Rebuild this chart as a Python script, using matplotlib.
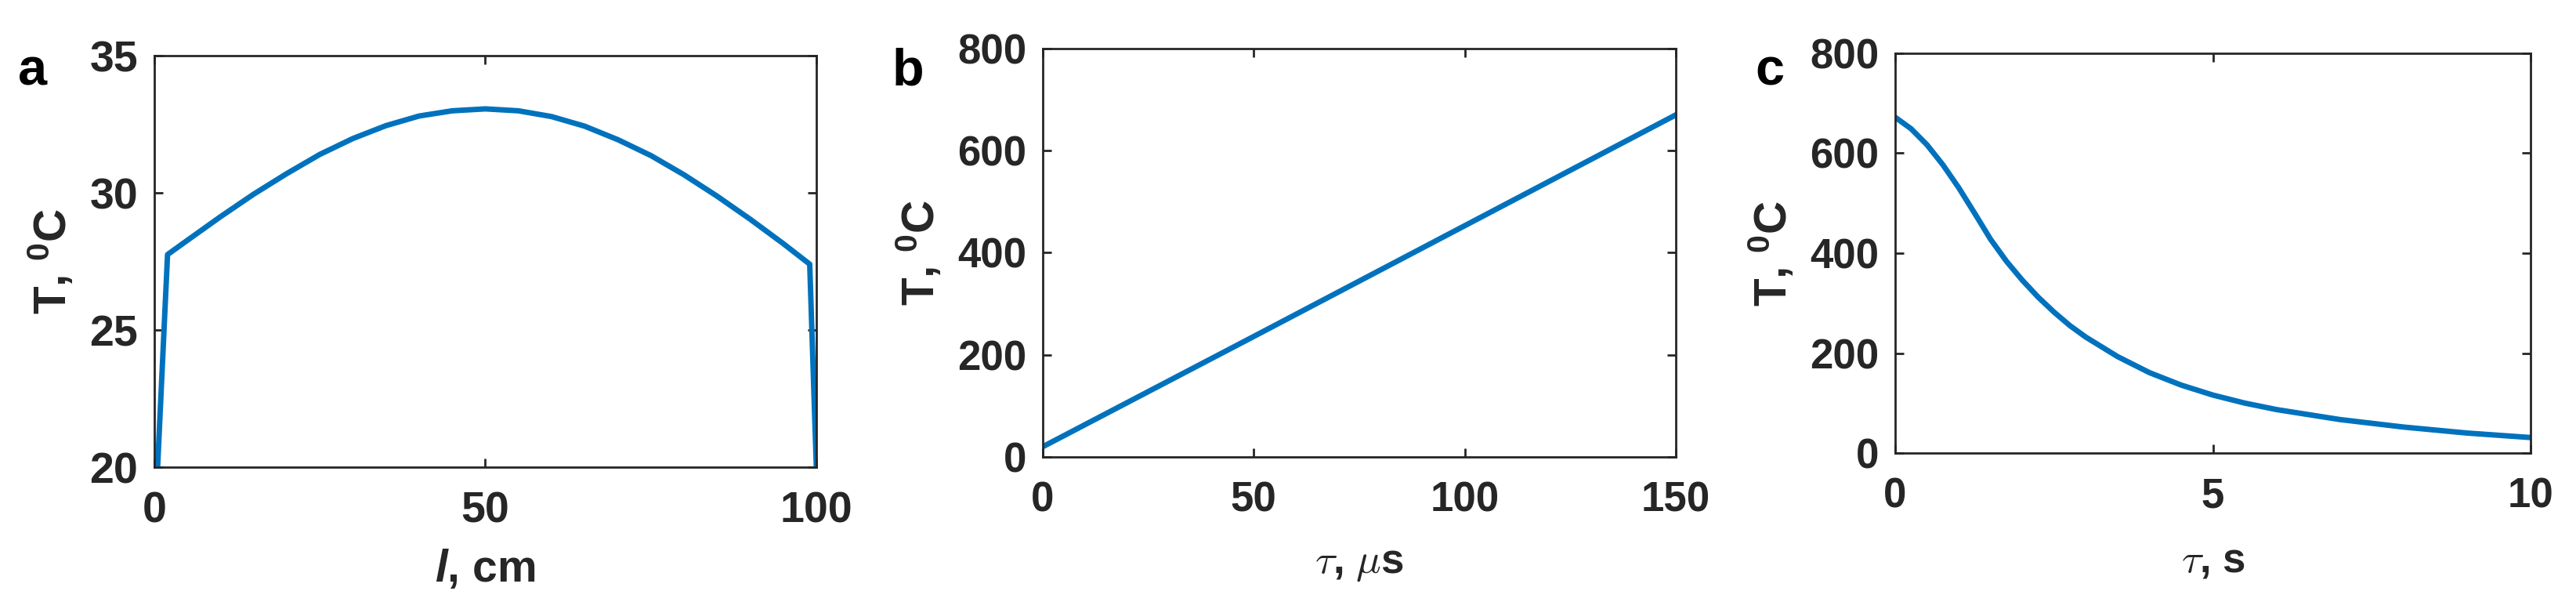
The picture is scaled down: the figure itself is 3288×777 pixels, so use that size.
import numpy as np
import matplotlib.pyplot as plt

plt.rcParams['font.family'] = ['Liberation Sans', 'DejaVu Sans']
plt.rcParams['font.weight'] = 'bold'
plt.rcParams['axes.labelweight'] = 'bold'
plt.rcParams['mathtext.fontset'] = 'custom'
plt.rcParams['mathtext.rm'] = 'Liberation Sans:bold'
plt.rcParams['mathtext.bf'] = 'Liberation Sans:bold'
plt.rcParams['mathtext.it'] = 'Liberation Sans:italic'

# painel a: temperatura ao longo do comprimento
l_cm = [0.5, 2, 5, 10, 15, 20, 25, 30, 35, 40, 45, 50, 55, 60, 65, 70, 75, 80, 85, 90, 95, 99, 100]
T_a = [20, 27.75, 28.27, 29.13, 29.95, 30.7, 31.4, 31.98, 32.45, 32.8, 32.99, 33.06, 32.99, 32.78,
       32.43, 31.94, 31.36, 30.66, 29.88, 29.04, 28.15, 27.4, 20]

# painel b: aquecimento (microssegundos)
tau_us = [0, 50, 100, 150]
T_b = [20, 236, 453, 670]

# painel c: resfriamento (segundos)
tau_s = [0, 0.25, 0.5, 0.75, 1, 1.25, 1.5, 1.75, 2, 2.25, 2.5, 2.75, 3,
         3.5, 4, 4.5, 5, 5.5, 6, 7, 8, 9, 10]
T_c = [672, 649, 617, 577, 531, 480, 428, 384, 346, 312, 282, 255, 232,
       193, 161, 136, 116, 100, 87, 67, 52, 40, 31]

azul = '#0072BD'
cinza = '#262626'

fig = plt.figure(figsize=(32.88, 7.77), dpi=100)
ax_a = fig.add_axes([0.0599, 0.2329, 0.2570, 0.6757])
ax_b = fig.add_axes([0.4048, 0.2497, 0.2457, 0.6705])
ax_c = fig.add_axes([0.7357, 0.2561, 0.2467, 0.6564])


def estilo(ax, tam):
    ax.tick_params(direction='in', length=8, width=2, colors=cinza, labelsize=tam,
                   top=True, right=True)
    ax.tick_params(axis='x', pad=22)
    ax.tick_params(axis='y', pad=15)
    for s in ax.spines.values():
        s.set_linewidth(2)
        s.set_color(cinza)


ylab = r'T, $^{\mathbf{0}}$C'

# a
ax_a.plot(l_cm, T_a, color=azul, lw=5)
ax_a.set_xlim(0, 100)
ax_a.set_ylim(20, 35)
ax_a.set_xticks([0, 50, 100])
ax_a.set_yticks([20, 25, 30, 35])
estilo(ax_a, 40)
ax_a.set_ylabel(ylab, fontsize=42, color=cinza)
ax_a.yaxis.set_label_coords(-0.118, 0.5)
ax_a.set_xlabel(r'$l$, cm', fontsize=41, color=cinza)
ax_a.xaxis.label.set_va('baseline')
ax_a.xaxis.set_label_coords(0.5, -0.278)

# b
ax_b.plot(tau_us, T_b, color=azul, lw=5)
ax_b.set_xlim(0, 150)
ax_b.set_ylim(0, 800)
ax_b.set_xticks([0, 50, 100, 150])
ax_b.set_yticks([0, 200, 400, 600, 800])
estilo(ax_b, 38)
ax_b.set_ylabel(ylab, fontsize=42, color=cinza)
ax_b.yaxis.set_label_coords(-0.156, 0.5)
ax_b.set_xlabel(r'$\tau$, $\mu$s', fontsize=38, color=cinza, math_fontfamily='cm')
ax_b.xaxis.label.set_va('baseline')
ax_b.xaxis.set_label_coords(0.5, -0.284)

# c
ax_c.plot(tau_s, T_c, color=azul, lw=5)
ax_c.set_xlim(0, 10)
ax_c.set_ylim(0, 800)
ax_c.set_xticks([0, 5, 10])
ax_c.set_yticks([0, 200, 400, 600, 800])
estilo(ax_c, 38)
ax_c.set_ylabel(ylab, fontsize=42, color=cinza)
ax_c.yaxis.set_label_coords(-0.155, 0.5)
ax_c.set_xlabel(r'$\tau$, s', fontsize=38, color=cinza, math_fontfamily='cm')
ax_c.xaxis.label.set_va('baseline')
ax_c.xaxis.set_label_coords(0.5, -0.298)

# letras dos paineis
for x, letra in [(0.007, 'a'), (0.3464, 'b'), (0.6813, 'c')]:
    fig.text(x, 0.861, letra, fontsize=48, fontweight='bold', color='black', va='baseline')

fig.savefig('out.png', dpi=100)
